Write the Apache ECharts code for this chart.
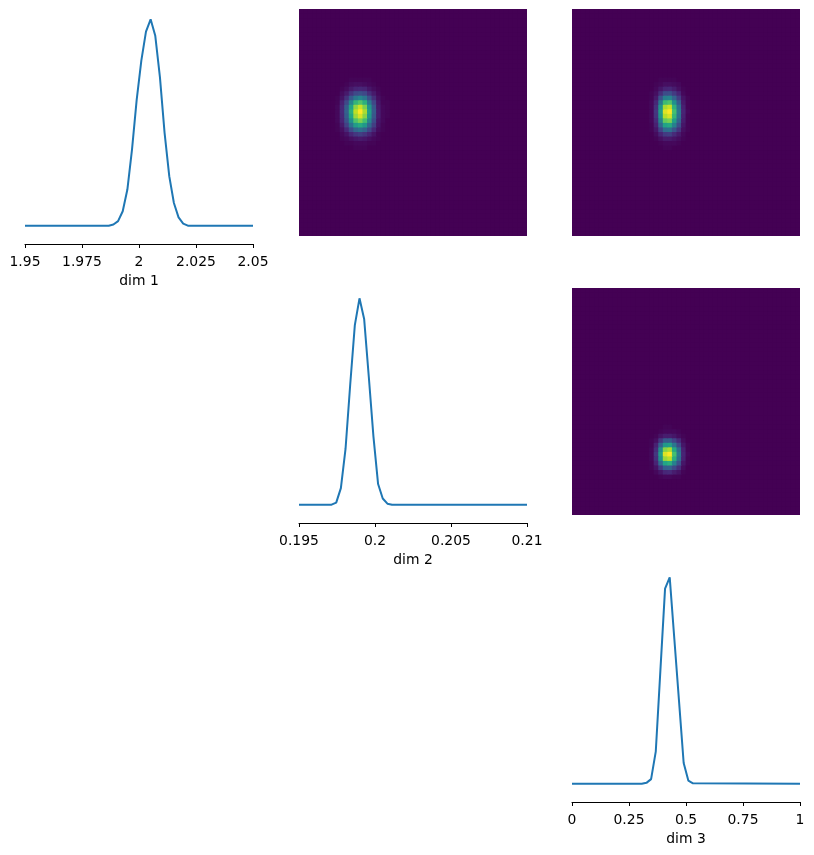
<!DOCTYPE html>
<html>
<head>
<meta charset="utf-8">
<script src="https://cdn.jsdelivr.net/npm/echarts@6/dist/echarts.min.js"></script>
<style>
  html, body { margin: 0; padding: 0; background: #fff; }
  #main { width: 814px; height: 855px; }
</style>
</head>
<body>
<div id="main"></div>
<script>
// marginal curves, evaluated on 50 evenly spaced points from min to max (peak scaled to 1)
var dim1X = [1.95, 1.98673, 1.98878, 1.99082, 1.99286, 1.9949, 1.99694, 1.99898, 2.00102, 2.00306, 2.0051, 2.00714, 2.00918, 2.01122, 2.01327, 2.01531, 2.01735, 2.01939, 2.02143, 2.05];
var dim1Y = [0, 0, 0.006, 0.022, 0.07, 0.175, 0.37, 0.61, 0.8, 0.94, 1, 0.92, 0.72, 0.45, 0.24, 0.11, 0.04, 0.01, 0, 0];

var dim2X = [0.195, 0.197143, 0.197449, 0.197755, 0.198061, 0.198367, 0.198673, 0.19898, 0.199286, 0.199592, 0.199898, 0.200204, 0.20051, 0.200816, 0.201122, 0.21];
var dim2Y = [0, 0, 0.01, 0.08, 0.27, 0.58, 0.87, 1, 0.9, 0.62, 0.33, 0.1, 0.03, 0.005, 0, 0];

var dim3X = [0, 0.30612, 0.32653, 0.34694, 0.36735, 0.38776, 0.40816, 0.42857, 0.44898, 0.46939, 0.4898, 0.5102, 0.53061, 1];
var dim3Y = [0, 0, 0.004, 0.022, 0.155, 0.55, 0.945, 1, 0.7, 0.4, 0.1, 0.015, 0.002, 0];

// tick labels
var dim1Ticks = [1.95, 1.975, 2, 2.025, 2.05];
var dim2Ticks = [0.195, 0.2, 0.205, 0.21];
var dim3Ticks = [0, 0.25, 0.5, 0.75, 1];

// 2d histograms, 50x50 bins, only the non-empty block is listed
// rows go from the lowest y bin upwards
var heat21Col0 = 8, heat21Row0 = 19;   // x: dim 2 bins, y: dim 1 bins
var heat21 = [
  [0, 0, 0, 0, 1, 1, 1, 0, 0, 0, 0, 0],
  [0, 0, 1, 1, 2, 2, 2, 1, 1, 0, 0, 0],
  [0, 1, 2, 4, 6, 7, 6, 4, 2, 1, 0, 0],
  [0, 2, 5, 11, 16, 18, 15, 10, 5, 1, 0, 0],
  [1, 4, 11, 23, 33, 37, 32, 21, 11, 3, 1, 0],
  [1, 7, 19, 38, 55, 61, 53, 34, 18, 5, 1, 0],
  [2, 10, 25, 50, 72, 80, 70, 45, 23, 6, 2, 0],
  [2, 11, 29, 59, 85, 94, 82, 53, 27, 8, 2, 1],
  [2, 12, 31, 63, 90, 100, 87, 56, 29, 8, 2, 1],
  [2, 11, 29, 58, 83, 92, 80, 52, 27, 7, 2, 1],
  [1, 9, 22, 45, 65, 72, 63, 40, 21, 6, 1, 1],
  [1, 5, 14, 28, 40, 45, 39, 25, 13, 4, 1, 0],
  [0, 3, 7, 15, 22, 24, 21, 13, 7, 2, 0, 0],
  [0, 1, 3, 7, 10, 11, 10, 6, 3, 1, 0, 0],
  [0, 0, 1, 3, 4, 4, 3, 2, 1, 0, 0, 0],
  [0, 0, 0, 1, 1, 1, 1, 1, 0, 0, 0, 0]
];

var heat31Col0 = 16, heat31Row0 = 19;  // x: dim 3 bins, y: dim 1 bins
var heat31 = [
  [0, 0, 0, 0, 1, 1, 0, 0, 0, 0],
  [0, 0, 0, 1, 2, 2, 2, 1, 0, 0],
  [0, 0, 1, 4, 7, 7, 5, 3, 1, 0],
  [0, 0, 3, 10, 17, 18, 12, 7, 2, 0],
  [0, 1, 6, 20, 35, 37, 26, 15, 4, 1],
  [0, 1, 9, 34, 58, 61, 43, 24, 6, 1],
  [0, 2, 12, 44, 76, 80, 56, 32, 8, 1],
  [0, 2, 15, 52, 89, 94, 66, 38, 9, 1],
  [0, 2, 16, 55, 95, 100, 70, 40, 10, 2],
  [0, 2, 14, 51, 87, 92, 64, 37, 9, 1],
  [0, 2, 11, 40, 68, 72, 50, 29, 7, 1],
  [0, 1, 7, 25, 43, 45, 32, 18, 5, 1],
  [0, 1, 4, 13, 23, 24, 17, 10, 2, 0],
  [0, 0, 2, 6, 10, 11, 8, 4, 1, 0],
  [0, 0, 1, 2, 4, 4, 3, 2, 0, 0],
  [0, 0, 0, 1, 1, 1, 1, 0, 0, 0]
];

var heat32Col0 = 16, heat32Row0 = 8;   // x: dim 3 bins, y: dim 2 bins
var heat32 = [
  [0, 0, 0, 1, 2, 2, 1, 1, 0, 0],
  [0, 0, 2, 6, 11, 12, 8, 5, 1, 0],
  [0, 1, 5, 17, 30, 31, 22, 13, 3, 0],
  [0, 1, 10, 35, 59, 63, 44, 25, 6, 1],
  [0, 2, 14, 50, 85, 90, 63, 36, 9, 1],
  [0, 2, 16, 55, 95, 100, 70, 40, 10, 2],
  [0, 2, 13, 48, 82, 87, 61, 35, 9, 1],
  [0, 1, 9, 31, 53, 56, 39, 22, 6, 1],
  [0, 1, 4, 16, 28, 29, 20, 12, 3, 0],
  [0, 0, 1, 5, 8, 8, 6, 3, 1, 0],
  [0, 0, 0, 1, 2, 2, 2, 1, 0, 0],
  [0, 0, 0, 0, 1, 1, 0, 0, 0, 0]
];

var nBins = 50;
var viridis = ['#440154', '#482475', '#414487', '#355f8d', '#2a788e', '#21918c',
  '#22a884', '#44bf70', '#7ad151', '#bddf26', '#fde725'];

var chart = echarts.init(document.getElementById('main'), null, { renderer: 'canvas' });

var bins = [];
for (var b = 0; b < nBins; b++) bins.push(b);

// place the listed block into the full bin grid, the rest of the cells are empty
function fullGrid(block, col0, row0) {
  var out = [];
  for (var y = 0; y < nBins; y++) {
    for (var x = 0; x < nBins; x++) {
      var r = y - row0, c = x - col0, v = 0;
      if (r >= 0 && r < block.length && c >= 0 && c < block[r].length) v = block[r][c];
      out.push([x, y, v]);
    }
  }
  return out;
}

function pairs(xs, ys) {
  return xs.map(function (x, i) { return [x, ys[i]]; });
}

var font = 'DejaVu Sans';
function fmt(v) { return String(+v.toFixed(6)); }

function diagX(idx, ticks, name) {
  return {
    gridIndex: idx, type: 'value',
    min: ticks[0], max: ticks[ticks.length - 1], interval: ticks[1] - ticks[0],
    offset: 8,
    axisLine: { show: true, onZero: false, lineStyle: { color: '#000', width: 1 } },
    axisTick: { show: true, length: 4, lineStyle: { color: '#000', width: 1 } },
    axisLabel: { color: '#000', fontSize: 13.9, fontFamily: font, margin: 11, formatter: fmt,
      showMinLabel: true, showMaxLabel: true },
    splitLine: { show: false },
    name: name, nameLocation: 'middle', nameGap: 30,
    nameTextStyle: { color: '#000', fontSize: 13.9, fontFamily: font }
  };
}
function diagY(idx) {
  return { gridIndex: idx, type: 'value', min: -0.05, max: 1.05, show: false };
}
function catAxis(idx) {
  return { gridIndex: idx, type: 'category', data: bins, show: false, boundaryGap: true };
}

// cells are drawn a touch larger so neighbouring cells leave no seams
function renderCell(params, api) {
  var p = api.coord([api.value(0), api.value(1)]);
  var s = api.size([1, 1]);
  return {
    type: 'rect',
    shape: { x: p[0] - s[0] / 2 - 0.4, y: p[1] - s[1] / 2 - 0.4, width: s[0] + 0.8, height: s[1] + 0.8 },
    style: { fill: api.visual('color') }
  };
}
function heatSeries(axisIdx, data) {
  return {
    type: 'custom', xAxisIndex: axisIdx, yAxisIndex: axisIdx,
    renderItem: renderCell, clip: true, data: data,
    encode: { x: 0, y: 1 }
  };
}

var grids = [
  { left: 25, top: 9, width: 228, height: 227 },
  { left: 299, top: 9, width: 228, height: 227, backgroundColor: '#440154', show: true, borderWidth: 0 },
  { left: 572, top: 9, width: 228, height: 227, backgroundColor: '#440154', show: true, borderWidth: 0 },
  { left: 299, top: 288, width: 228, height: 227 },
  { left: 572, top: 288, width: 228, height: 227, backgroundColor: '#440154', show: true, borderWidth: 0 },
  { left: 572, top: 567, width: 228, height: 227 }
];

var lineStyle = { color: '#1f77b4', width: 2 };

var option = {
  animation: false,
  backgroundColor: '#fff',
  grid: grids,
  xAxis: [
    diagX(0, dim1Ticks, 'dim 1'),
    catAxis(1),
    catAxis(2),
    diagX(3, dim2Ticks, 'dim 2'),
    catAxis(4),
    diagX(5, dim3Ticks, 'dim 3')
  ],
  yAxis: [diagY(0), catAxis(1), catAxis(2), diagY(3), catAxis(4), diagY(5)],
  visualMap: {
    show: false, type: 'continuous', min: 0, max: 100, dimension: 2,
    seriesIndex: [3, 4, 5],
    inRange: { color: viridis }
  },
  series: [
    { type: 'line', xAxisIndex: 0, yAxisIndex: 0, data: pairs(dim1X, dim1Y), showSymbol: false, lineStyle: lineStyle, itemStyle: { color: '#1f77b4' } },
    { type: 'line', xAxisIndex: 3, yAxisIndex: 3, data: pairs(dim2X, dim2Y), showSymbol: false, lineStyle: lineStyle, itemStyle: { color: '#1f77b4' } },
    { type: 'line', xAxisIndex: 5, yAxisIndex: 5, data: pairs(dim3X, dim3Y), showSymbol: false, lineStyle: lineStyle, itemStyle: { color: '#1f77b4' } },
    heatSeries(1, fullGrid(heat21, heat21Col0, heat21Row0)),
    heatSeries(2, fullGrid(heat31, heat31Col0, heat31Row0)),
    heatSeries(4, fullGrid(heat32, heat32Col0, heat32Row0))
  ]
};

chart.setOption(option);
window.onresize = chart.resize;
</script>
</body>
</html>
